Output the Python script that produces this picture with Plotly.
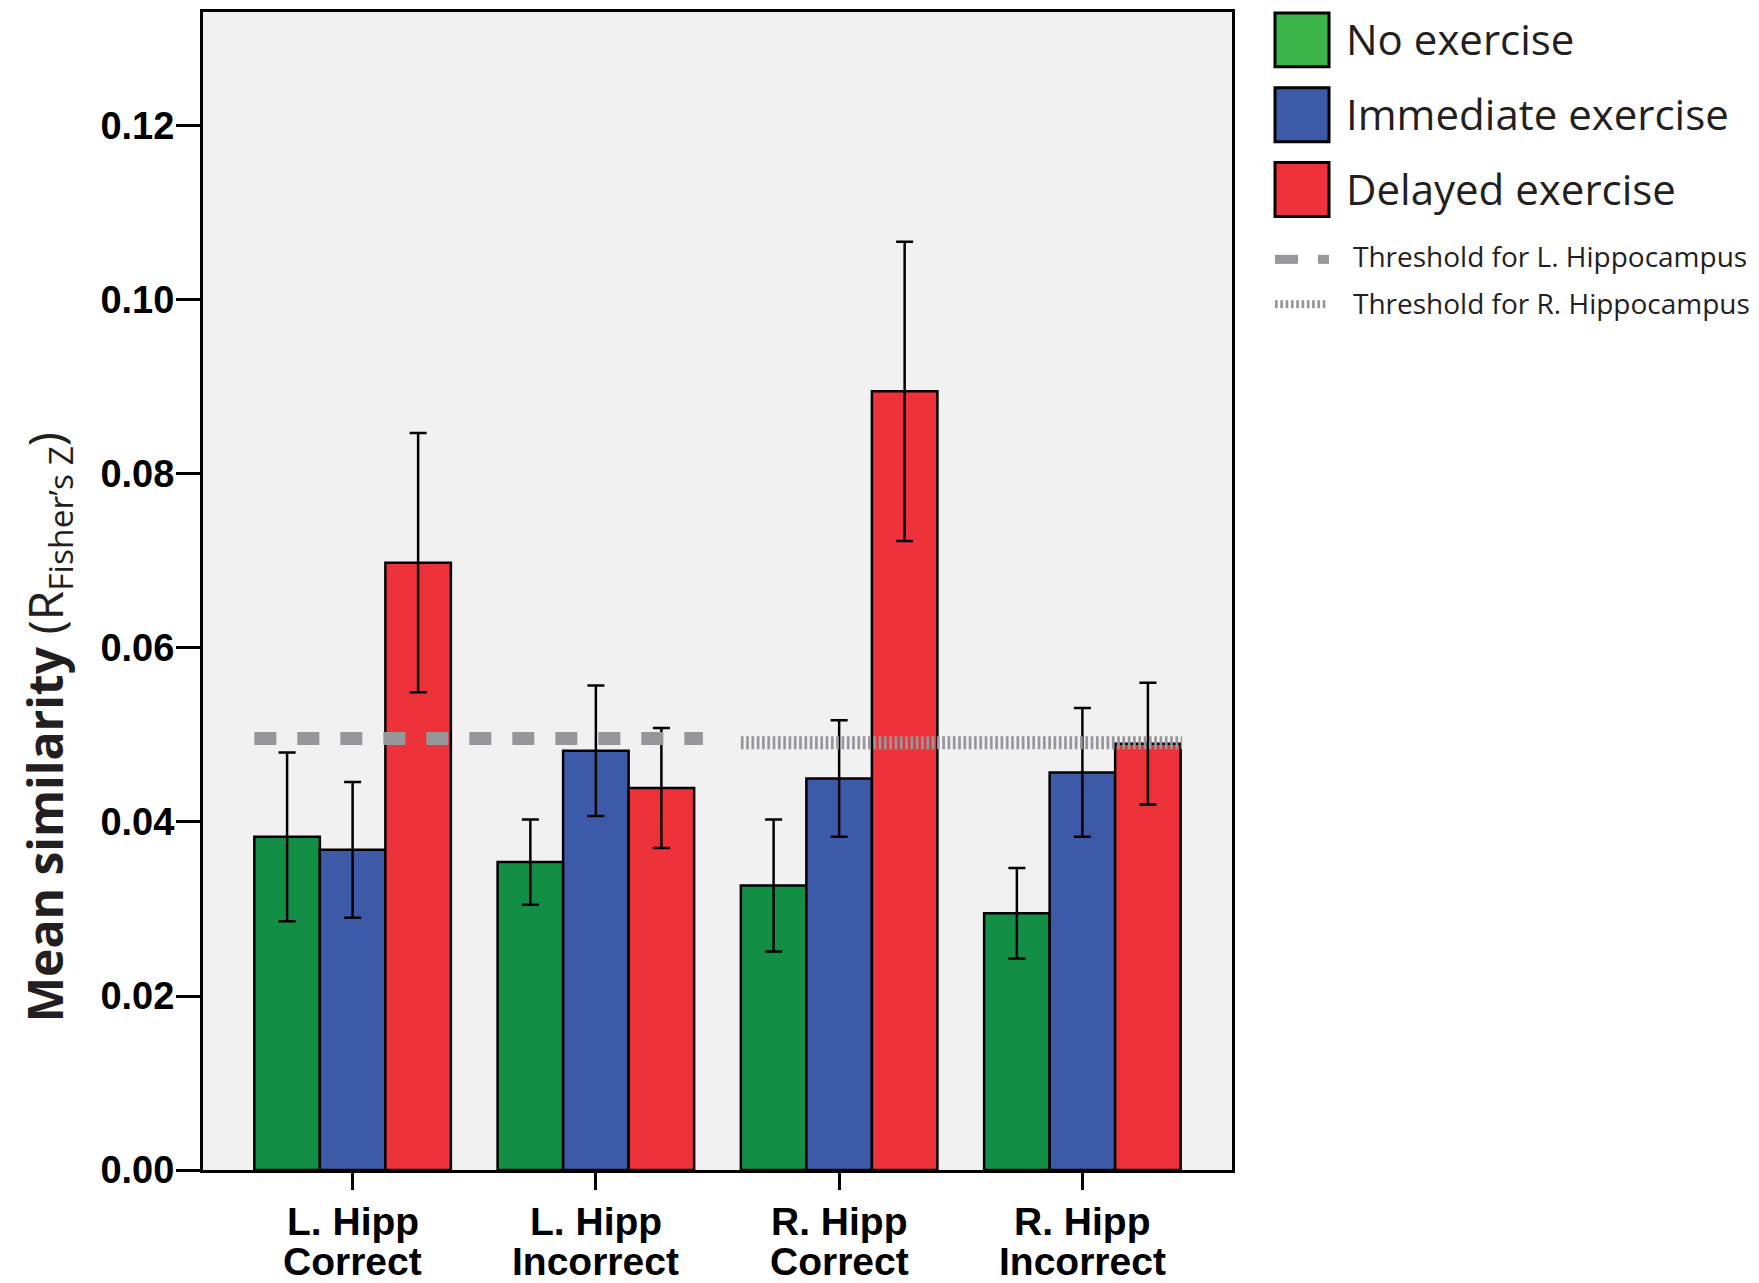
import plotly.graph_objects as go

# ---- data -------------------------------------------------------------
regions = ["L. Hipp", "L. Hipp", "R. Hipp", "R. Hipp"]
outcomes = ["Correct", "Incorrect", "Correct", "Incorrect"]
group_names = ["No exercise", "Immediate exercise", "Delayed exercise"]

no_exercise = [0.0383, 0.0354, 0.0327, 0.0295]
no_exercise_err = [0.0097, 0.0049, 0.0076, 0.0052]
immediate = [0.0368, 0.0482, 0.0450, 0.0457]
immediate_err = [0.0078, 0.0075, 0.0067, 0.0074]
delayed = [0.0698, 0.0439, 0.0895, 0.0490]
delayed_err = [0.0149, 0.0069, 0.0172, 0.0070]

threshold_names = ["Threshold for L. Hippocampus", "Threshold for R. Hippocampus"]
threshold_left = 0.0496
threshold_right = 0.0491

y_ticks = [0.00, 0.02, 0.04, 0.06, 0.08, 0.10, 0.12]

# ---- styling ----------------------------------------------------------
W, H = 1759, 1283
ML, MR, MT, MB = 203, 527, 9, 113
PW, PH = W - ML - MR, H - MT - MB

bar_colors = ["#128F45", "#3D5AA8", "#EE323A"]
legend_colors = ["#3BB44A", "#3D5AA8", "#EE323A"]
thr_gray = "#96979A"
text_dark = "#231F20"
bold_sans = "Liberation Sans, Arial, sans-serif"
myriad_like = "Open Sans, Noto Sans, sans-serif"


def px_x(px):
    return (px - ML) / PW


def px_y(py):
    return (MT + PH - py) / PH


x_pos = list(range(len(outcomes)))
series = [
    (no_exercise, no_exercise_err),
    (immediate, immediate_err),
    (delayed, delayed_err),
]

fig = go.Figure()

for name, (vals, errs), col in zip(group_names, series, bar_colors):
    fig.add_trace(go.Bar(
        x=x_pos, y=vals, name=name,
        marker=dict(color=col, line=dict(color="black", width=2.5)),
        error_y=dict(type="data", array=errs, visible=True,
                     color="black", thickness=2.5, width=8.5),
        showlegend=False,
    ))

# threshold reference lines spanning each hemisphere's pair of groups
half_group = 0.404
fig.add_trace(go.Scatter(
    x=[x_pos[0] - half_group, x_pos[1] + 0.44],
    y=[threshold_left, threshold_left],
    mode="lines", name=threshold_names[0], showlegend=False,
    line=dict(color=thr_gray, width=13, dash="22px,21px"),
    hoverinfo="skip",
))
fig.add_trace(go.Scatter(
    x=[x_pos[2] - half_group, x_pos[3] + 0.41],
    y=[threshold_right, threshold_right],
    mode="lines", name=threshold_names[1], showlegend=False,
    line=dict(color=thr_gray, width=13, dash="2.7px,2.6px"),
    hoverinfo="skip",
))

annotations = []
shapes = []

# two-line category labels under each tick
for xp, reg, out in zip(x_pos, regions, outcomes):
    annotations.append(dict(
        x=xp, y=px_y(1222), xref="x", yref="paper", text=reg,
        showarrow=False, xanchor="center", yanchor="middle",
        font=dict(family=bold_sans, size=39, color="black", weight="bold"),
    ))
    annotations.append(dict(
        x=xp, y=px_y(1262), xref="x", yref="paper", text=out,
        showarrow=False, xanchor="center", yanchor="middle",
        font=dict(family=bold_sans, size=39, color="black", weight="bold"),
    ))

# rotated y-axis title
annotations.append(dict(
    x=px_x(47), y=px_y(726), xref="paper", yref="paper",
    text="<b>Mean similarity</b> (R<sub>Fisher’s Z</sub>)",
    textangle=-90, showarrow=False, xanchor="center", yanchor="middle",
    font=dict(family=myriad_like, size=48, color=text_dark),
))

# legend: colour boxes for the exercise groups
box_centers = [37, 112, 187]
for name, col, cy in zip(group_names, legend_colors, box_centers):
    shapes.append(dict(
        type="rect", xref="paper", yref="paper",
        x0=px_x(1275), x1=px_x(1329), y0=px_y(cy + 27), y1=px_y(cy - 27),
        fillcolor=col, line=dict(color="black", width=3),
    ))
    annotations.append(dict(
        x=px_x(1344), y=px_y(cy - 1), xref="paper", yref="paper", text=name,
        showarrow=False, xanchor="left", yanchor="middle",
        font=dict(family=myriad_like, size=42, color=text_dark),
    ))

# legend: threshold line samples
thr_rows = [254, 301]
shapes.append(dict(type="line", xref="paper", yref="paper",
                   x0=px_x(1275), x1=px_x(1298), y0=px_y(257), y1=px_y(257),
                   line=dict(color=thr_gray, width=9)))
shapes.append(dict(type="line", xref="paper", yref="paper",
                   x0=px_x(1318), x1=px_x(1329), y0=px_y(257), y1=px_y(257),
                   line=dict(color=thr_gray, width=9)))
shapes.append(dict(type="line", xref="paper", yref="paper",
                   x0=px_x(1275), x1=px_x(1328), y0=px_y(302), y1=px_y(302),
                   line=dict(color=thr_gray, width=8, dash="2.7px,2.6px")))
for name, cy in zip(threshold_names, thr_rows):
    annotations.append(dict(
        x=px_x(1351), y=px_y(cy), xref="paper", yref="paper", text=name,
        showarrow=False, xanchor="left", yanchor="middle",
        font=dict(family=myriad_like, size=28, color=text_dark),
    ))

fig.update_layout(
    width=W, height=H,
    margin=dict(l=ML, r=MR, t=MT, b=MB, pad=0),
    paper_bgcolor="white",
    plot_bgcolor="#F0F1F0",
    barmode="group", bargap=0.192, bargroupgap=0,
    showlegend=False,
    annotations=annotations,
    shapes=shapes,
)

fig.update_xaxes(
    range=[-0.615, 3.615], tickvals=x_pos, showticklabels=False,
    ticks="outside", ticklen=17, tickwidth=2.5, tickcolor="black",
    showline=True, linecolor="black", linewidth=3, mirror=True,
    showgrid=False, zeroline=False,
)
fig.update_yaxes(
    range=[0, 0.1331], tickvals=y_ticks, tickformat=".2f",
    ticks="outside", ticklen=24, tickwidth=2.5, tickcolor="black",
    ticklabelstandoff=-6,
    tickfont=dict(family=bold_sans, size=38, color="black", weight="bold"),
    showline=True, linecolor="black", linewidth=3, mirror=True,
    showgrid=False, zeroline=False,
)

fig.write_html("out.html")
